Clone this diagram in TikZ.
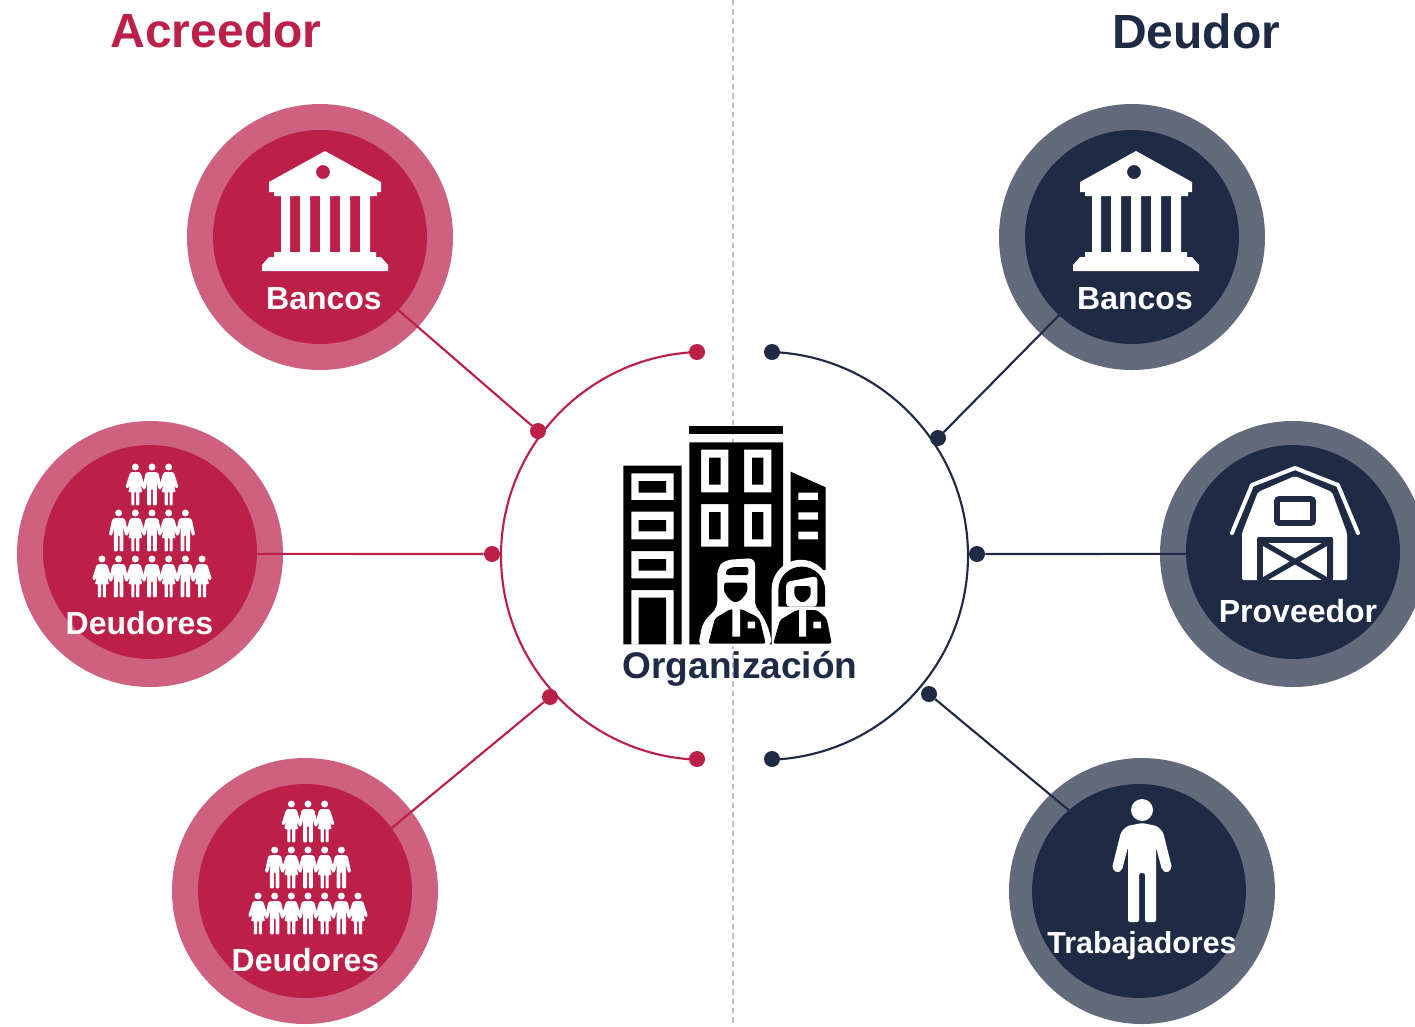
\documentclass[tikz,border=0pt]{standalone}
\usepackage{fontspec}
\setmainfont{Liberation Sans}
\definecolor{crim}{HTML}{BC2049}
\definecolor{crimring}{HTML}{CE6080}
\definecolor{navy}{HTML}{1F2A44}
\definecolor{navyring}{HTML}{626A7C}
\definecolor{dashgray}{HTML}{B4C4D8}
\tikzset{
  x=0.75pt,y=-0.75pt,
  ring/.style={circle,minimum size=199.5pt,inner sep=0pt,fill=#1},
  core/.style={circle,minimum size=160.5pt,inner sep=0pt,fill=#1},
  dotn/.style={circle,minimum size=12pt,inner sep=0pt,fill=#1},
  link/.style={draw=#1,line width=1.6pt},
  lbl/.style={anchor=base,text=white,font=\bfseries\fontsize{24}{24}\selectfont,inner sep=0pt},
  heading/.style={anchor=base,text=#1,font=\bfseries\fontsize{36}{36}\selectfont,inner sep=0pt},
  bank/.pic={
    \fill[white,even odd rule]
      (325,151) -- (381,182) -- (381,192) -- (377,192) -- (377,196) -- (370,196) -- (370,252)
      -- (376,252) -- (376,257) -- (381,257) -- (388,265) -- (388,271) -- (262,271) -- (262,265)
      -- (269,257) -- (274,257) -- (274,252) -- (281,252) -- (281,196) -- (274,196) -- (274,192)
      -- (269,192) -- (269,182) -- cycle
      (323,172) circle[radius=7]
      (290,196) rectangle (300,252) (310,196) rectangle (320,252)
      (330,196) rectangle (340,252) (350,196) rectangle (360,252);
  },
  manfig/.pic={
    \fill[white] (0,0) circle[radius=3.5];
    \fill[white,rounded corners=0.8]
      (-4,5) -- (4,5) -- (6.5,6.3) -- (9.7,21.5) -- (8,23) -- (6.2,21.5) -- (4.8,14)
      -- (4.8,38.3) -- (0.9,38.3) -- (0.9,22) -- (-0.9,22) -- (-0.9,38.3) -- (-4.8,38.3) -- (-4.8,14)
      -- (-6.2,21.5) -- (-8,23) -- (-9.7,21.5) -- (-6.5,6.3) -- cycle;
  },
  womanfig/.pic={
    \fill[white] (0,0) circle[radius=3.5];
    \fill[white,rounded corners=0.6]
      (-3.5,5) -- (3.5,5) -- (5.5,6.3) -- (9.7,19.5) -- (8,21.5) -- (6,19.5) -- (3.8,12)
      -- (7,25) -- (4,25) -- (4,38.3) -- (0.9,38.3) -- (0.9,25) -- (-0.9,25) -- (-0.9,38.3) -- (-4,38.3) -- (-4,25)
      -- (-7,25) -- (-3.8,12) -- (-6,19.5) -- (-8,21.5) -- (-9.7,19.5) -- (-5.5,6.3) -- cycle;
  },
  crowd/.pic={
    \foreach \i/\k in {-1/womanfig,0/manfig,1/womanfig}
      \pic at (\i*16.67,0) {\k};
    \foreach \i/\k in {-2/manfig,-1/womanfig,0/manfig,1/womanfig,2/manfig}
      \pic at (\i*16.67,46) {\k};
    \foreach \i/\k in {-3/womanfig,-2/manfig,-1/womanfig,0/manfig,1/womanfig,2/manfig,3/womanfig}
      \pic at (\i*16.67,92) {\k};
  },
}
\begin{document}
\begin{tikzpicture}
\useasboundingbox (0,0) rectangle (1415,1026);

% divider
\coordinate (dt) at (733,0);
\coordinate (db) at (733,1026);
\draw[dashgray,line width=0.9pt,dash pattern=on 4pt off 3pt] (dt) -- (db);

% circles
\node[ring=crimring] (r1) at (320,237) {};
\node[core=crim] (c1) at (320,237) {};
\node[ring=crimring] (r2) at (150,554) {};
\node[core=crim] (c2) at (150,552) {};
\node[ring=crimring] (r3) at (305,891) {};
\node[core=crim] (c3) at (305,891) {};
\node[ring=navyring] (r4) at (1132,237) {};
\node[core=navy] (c4) at (1132,237) {};
\node[ring=navyring] (r5) at (1293,554) {};
\node[core=navy] (c5) at (1293,552) {};
\node[ring=navyring] (r6) at (1142,891) {};
\node[core=navy] (c6) at (1139,891) {};

% dots
\node[dotn=crim] (a1) at (697,352) {};
\node[dotn=crim] (a2) at (538,431) {};
\node[dotn=crim] (a3) at (492,554) {};
\node[dotn=crim] (a4) at (550,697) {};
\node[dotn=crim] (a5) at (697,759) {};
\node[dotn=navy] (b1) at (772,352) {};
\node[dotn=navy] (b2) at (938,438) {};
\node[dotn=navy] (b3) at (977,554) {};
\node[dotn=navy] (b4) at (929,694) {};
\node[dotn=navy] (b5) at (772,759) {};

% arcs
\draw[link=crim] (a1.center) arc[start angle=267.75,end angle=92.25,radius=204];
\draw[link=navy] (b1.center) arc[start angle=-87.75,end angle=87.75,radius=204];

% connectors
\draw[link=crim] (a2) -- (c1.-43.5);
\draw[link=crim] (a3) -- (c2.-1);
\draw[link=crim] (a4) -- (c3.36.5);
\draw[link=navy] (b2) -- (c4.-133.5);
\draw[link=navy] (b3) -- (c5.-179);
\draw[link=navy] (b4) -- (c6.131);

% icons
\pic at (0,0) {bank};
\pic at (811,0) {bank};
\pic at (152,467) {crowd};
\pic at (308,804) {crowd};

% barn
\draw[white,line width=3pt,line cap=round,line join=round]
  (1232,533) -- (1252,485) -- (1295,468) -- (1338,485) -- (1358,533);
\fill[white,rounded corners=1.5] (1242,533) -- (1258,492) -- (1295,476) -- (1332,492) -- (1347,533) -- (1347,580) -- (1242,580) -- cycle;
\draw[navy,line width=4.2pt,rounded corners=1.5] (1277,499) rectangle (1313,523);
\fill[navy,rounded corners=1.5] (1257,537) rectangle (1333,581);
\begin{scope}
  \clip (1263,543) rectangle (1327,580);
  \fill[white] (1263,543) rectangle (1327,580);
  \draw[navy,line width=3.8pt] (1263,543) -- (1327,580) (1327,543) -- (1263,580);
\end{scope}

% person
\fill[white] (1142,810) circle[radius=11];
\fill[white,rounded corners=1.5]
  (1142,823) -- (1157,826) -- (1163,832) -- (1172,868) -- (1167,873) -- (1162,870) -- (1156,847)
  -- (1156,922) -- (1145,922) -- (1145,873) -- (1139,873) -- (1139,922) -- (1128,922) -- (1128,847)
  -- (1122,870) -- (1117,873) -- (1112,868) -- (1121,832) -- (1127,826) -- cycle;

% buildings
\fill[black] (689.3,426) rectangle (783,434.3);
\fill[black,even odd rule] (689.3,442.3) rectangle (783,644.3)
  (701,449.7) rectangle (728.3,492.3) (709,457.7) rectangle (720.7,484.7)
  (744,449.7) rectangle (771.3,492.3) (752,457.7) rectangle (763.3,484.7)
  (701,504) rectangle (728.3,546.7) (709,512) rectangle (720.7,539.3)
  (744,504) rectangle (771.3,546.7) (752,512) rectangle (763.3,539.3);
\fill[black,even odd rule] (623.3,465.7) rectangle (681.7,644.3)
  (631.3,473.3) rectangle (673.7,500) (638.7,481) rectangle (666,492.7)
  (631.3,511.7) rectangle (673.7,539.3) (638.7,520) rectangle (666,531.3)
  (631.3,551) rectangle (673.7,578.3) (638.7,559) rectangle (666,570.7)
  (631.3,590) rectangle (673.7,644.3) (638.7,597.7) rectangle (666,644.3);
\fill[black,even odd rule] (790.7,471.7) -- (825.7,487.3) -- (825.7,570) -- (790.7,570) -- cycle
  (798.3,492.7) rectangle (818,500) (798.3,512.3) rectangle (818,519.7) (798.3,531.7) rectangle (818,539.3);

% man
\fill[white,rounded corners=5] (717.3,608) -- (717.3,568) -- (725,560) -- (755,558) -- (755,608) -- (762,614) -- (770,632) -- (772,646) -- (698,646) -- (703,622) -- cycle;
\fill[black,rounded corners=1.5] (726,575) -- (726,570) -- (733,567) -- (748.3,567) -- (748.3,575) -- cycle;
\fill[black,rounded corners=2] (724,582.5) -- (747.3,582.5) -- (747.3,592) -- (741,600) -- (735.7,602.7) -- (730,600) -- (724,592) -- cycle;
\fill[black,rounded corners=1.5] (708.3,643.5) -- (715,618.3) -- (730,609.3) -- (742,609.3) -- (757,616.7) -- (760,620) -- (765.7,643.5) -- cycle;
\fill[white] (732.3,609) rectangle (740,636.7) (747.7,621.7) rectangle (755,628.3);

% woman
\fill[white] (771.7,646) -- (771.7,589) arc[start angle=180,end angle=360,radius=29.2] -- (832,646) -- cycle;
\fill[black] (778.3,606.7) -- (778.3,590) arc[start angle=180,end angle=360,radius=23.4] -- (825.1,606.7) -- cycle;
\fill[white,rounded corners=3] (786,606.7) -- (786,582) -- (817.3,576) -- (817.3,606.7) -- cycle;
\fill[black,rounded corners=2] (794.3,586) -- (810.7,586) -- (810.7,596) -- (806,601) -- (802.5,602.7) -- (799,601) -- (794.3,596) -- cycle;
\fill[black,rounded corners=1.5] (773.3,643.5) -- (780,620) -- (796.7,610) -- (807,610) -- (816.7,610) -- (826.7,618.3) -- (831.7,643.5) -- cycle;
\fill[white] (799,609) rectangle (806,636.7) (813.3,621.7) rectangle (821,628.3);

% texts
\node[heading=crim] (t1) at (216,47) {Acreedor};
\node[heading=navy] (t2) at (1196,48) {Deudor};
\node[lbl] (l1) at (324,309) {Bancos};
\node[lbl] (l2) at (139.5,634) {Deudores};
\node[lbl] (l3) at (305.5,971) {Deudores};
\node[lbl] (l4) at (1135,309) {Bancos};
\node[lbl] (l5) at (1298,622) {Proveedor};
\node[lbl,font=\bfseries\fontsize{22.8}{24}\selectfont] (l6) at (1142,953) {Trabajadores};
\node[anchor=base,text=navy,inner sep=0pt,font=\bfseries\fontsize{27.8}{28}\selectfont] (org) at (740,678) {Organización};
\end{tikzpicture}
\end{document}
